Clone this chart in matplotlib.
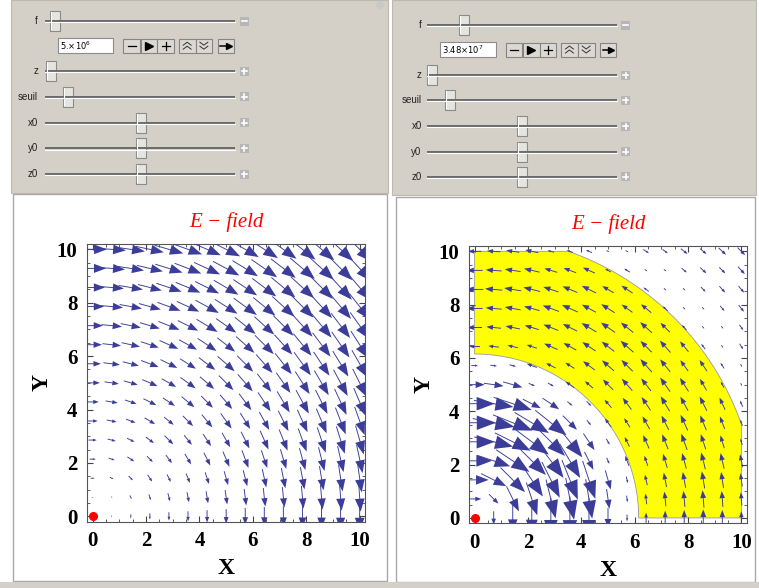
import numpy as np
import matplotlib.pyplot as plt
from matplotlib.patches import Rectangle, Polygon, Circle
from matplotlib.ticker import MultipleLocator

# ---- data ----
grid = np.linspace(0, 10, 15)          # sample points of the vector plot (both axes)
# arrow length (plot units) per ring index round(r / step); positive = clockwise
ring_len_left = [0, 0.07, 0.15, 0.23, 0.31, 0.38, 0.46, 0.54, 0.62, 0.70, 0.77,
                 0.85, 0.92, 1.00, 1.07, 1.12, 1.17, 1.21, 1.25, 1.28, 1.30]
ring_len_right = [0, 0.50, 1.05, 1.30, 1.50, 1.60, 1.50, 0.75, 0.25, -0.40, -0.55,
                  -0.60, -0.65, -0.60, -0.50, -0.25, 0.12, 0.25, 0.32, 0.38, 0.40]
r_inner, r_outer = 6.15, 10.6           # yellow zone (right panel)

titles = ["E \u2212 field", "E \u2212 field"]
f_text = [r"5.$\times$10$^{6}$", r"3.48$\times$10$^{7}$"]
slider_names = ["f", "z", "seuil", "x0", "y0", "z0"]
thumbs_left = [55, 51, 68.3, 140.7, 140.7, 140.7]
thumbs_right = [464, 432.3, 450, 522.3, 522.3, 522.3]

ARROW = "#3b3d99"
GRAY = "#d4d0c8"

fig = plt.figure(figsize=(7.59, 5.88), dpi=100)
ui = fig.add_axes([0, 0, 1, 1])
ui.set_xlim(0, 759)
ui.set_ylim(588, 0)
ui.axis("off")

# panel boxes
ui.add_patch(Rectangle((11, 0), 377, 193, fc=GRAY, ec="#bdb9b1", lw=0.8))
ui.add_patch(Rectangle((13, 194), 374, 387, fc="white", ec="#a9a9a9", lw=1))
ui.add_patch(Rectangle((392, 0), 364, 195, fc=GRAY, ec="#bdb9b1", lw=0.8))
ui.add_patch(Rectangle((396, 197), 359, 385, fc="white", ec="#a9a9a9", lw=1))
ui.add_patch(Rectangle((0, 582), 759, 6, fc=GRAY, ec="none"))
ui.add_patch(Circle((380, 5), 4, fc="#c9c9c9", ec="none"))


def slider_block(lab_x, t0, t1, btn_x, rows, thumbs, box_y, text):
    for i, (name, y, tx) in enumerate(zip(slider_names, rows, thumbs)):
        ui.text(lab_x, y, name, ha="right", va="center", fontsize=7,
                family="Liberation Sans", color="#222222")
        ui.plot([t0, t1], [y, y], color="#6a6a6a", lw=1.4, solid_capstyle="butt")
        ui.plot([t0, t1], [y + 1.3, y + 1.3], color="white", lw=0.8)
        ui.add_patch(Rectangle((tx - 5, y - 10), 10, 20, fc="#e6e4de", ec="#8a8a8a", lw=0.8))
        ui.plot([tx - 4, tx - 4], [y - 9, y + 8], color="white", lw=0.8)
        ui.add_patch(Rectangle((btn_x - 4.5, y - 4.5), 9, 9, fc="#b6b6b6", ec="none"))
        ui.plot([btn_x - 2.5, btn_x + 2.5], [y, y], color="white", lw=1.2)
        if i > 0:
            ui.plot([btn_x, btn_x], [y - 2.5, y + 2.5], color="white", lw=1.2)
    # input field and animation buttons
    bx0 = t0 + 12.7
    bx1 = bx0 + 55.5
    ui.add_patch(Rectangle((bx0, box_y - 7.5), bx1 - bx0, 15, fc="white", ec="#8c8c8c", lw=0.8))
    ui.text(bx0 + 2.5, box_y + 0.5, text, ha="left", va="center", fontsize=6,
            family="DejaVu Sans", color="black")
    offs = [(10, 26.6), (27.3, 44), (44, 60.6), (65.6, 82.3), (82.3, 99), (104.6, 120.6)]
    for k, (a, b) in enumerate(offs):
        x0, x1 = bx1 + a, bx1 + b
        cx = (x0 + x1) / 2
        ui.add_patch(Rectangle((x0, box_y - 7), x1 - x0, 14, fc="#dcd9d2", ec="#858585", lw=0.8))
        if k == 0:
            ui.plot([cx - 4, cx + 4], [box_y, box_y], color="black", lw=0.9)
        elif k == 1:
            ui.plot(cx, box_y, marker=">", color="black", ms=6)
        elif k == 2:
            ui.plot([cx - 4, cx + 4], [box_y, box_y], color="black", lw=0.9)
            ui.plot([cx, cx], [box_y - 4, box_y + 4], color="black", lw=0.9)
        elif k in (3, 4):
            s = -1 if k == 3 else 1
            for dy in (-2, 2):
                ui.plot([cx - 4, cx, cx + 4], [box_y + dy - s * 1.5, box_y + dy + s * 1.5,
                                                box_y + dy - s * 1.5], color="#333333", lw=0.7)
        else:
            ui.plot([cx - 5.5, cx + 2], [box_y, box_y], color="black", lw=1.1)
            ui.plot(cx + 3, box_y, marker=">", color="black", ms=4.5)


slider_block(38, 45, 235, 244, [21, 71, 96.7, 122.7, 148.3, 174], thumbs_left, 45.7, f_text[0])
slider_block(421.7, 427.3, 616.7, 625.7, [25, 75, 100, 126, 151.7, 176.7], thumbs_right, 49.5, f_text[1])


def draw_field(ax, ring_len):
    step = grid[1] - grid[0]
    for x in grid:
        for y in grid:
            r = np.hypot(x, y)
            if r == 0:
                continue
            L = ring_len[int(round(r / step))]
            a = abs(L)
            if a < 0.03:
                continue
            dx, dy = L * y / r, -L * x / r
            ax.arrow(x - dx / 2, y - dy / 2, dx, dy, width=min(0.035, 0.3 * a),
                     head_width=0.34 * a, head_length=0.45 * a,
                     length_includes_head=True, fc=ARROW, ec="none", zorder=3)


def setup_axes(rect, ring_len, title, ring=False):
    ax = fig.add_axes(rect)
    ax.set_xlim(-0.2, 10.2)
    ax.set_ylim(-0.2, 10.2)
    if ring:
        t = np.linspace(0, np.pi / 2, 80)
        inner = np.c_[r_inner * np.cos(t), r_inner * np.sin(t)]
        t2 = np.linspace(np.arccos(10 / r_outer), np.arcsin(10 / r_outer), 80)
        outer = np.c_[r_outer * np.cos(t2), r_outer * np.sin(t2)]
        pts = np.vstack([inner, [[0, 10]], outer[::-1], [[10, 0]]])
        ax.add_patch(Polygon(pts, closed=True, fc="#ffff00", ec="#9a9a9a", lw=0.6, zorder=1))
    draw_field(ax, ring_len)
    ax.plot(0, 0, "o", color="red", ms=5.5, zorder=5, clip_on=False)
    ax.set_xticks(range(0, 11, 2))
    ax.set_yticks(range(0, 11, 2))
    ax.xaxis.set_minor_locator(MultipleLocator(0.5))
    ax.yaxis.set_minor_locator(MultipleLocator(0.5))
    ax.tick_params(which="both", direction="in", top=True, right=True, color="#444444")
    ax.tick_params(which="major", length=4.5, width=0.8, labelsize=15, pad=7)
    ax.tick_params(which="minor", length=2.5, width=0.6)
    for lab in ax.get_xticklabels() + ax.get_yticklabels():
        lab.set_fontfamily("Liberation Serif")
        lab.set_fontweight("bold")
    for s in ax.spines.values():
        s.set_color("#555555")
        s.set_linewidth(0.8)
    ax.set_xlabel("X", fontsize=17, family="Liberation Serif", fontweight="bold", labelpad=5)
    ax.set_ylabel("Y", fontsize=17, family="Liberation Serif", fontweight="bold", labelpad=3)
    ax.set_title(title, color="red", fontsize=15, family="Liberation Serif",
                 style="italic", pad=12)
    return ax


W, H = 759, 588
setup_axes([87.3 / W, 1 - 521.7 / H, 277.7 / W, 277.7 / H], ring_len_left, titles[0])
setup_axes([469.3 / W, 1 - 523.3 / H, 277.4 / W, 277.3 / H], ring_len_right, titles[1], ring=True)

fig.savefig("out.png", dpi=100)
